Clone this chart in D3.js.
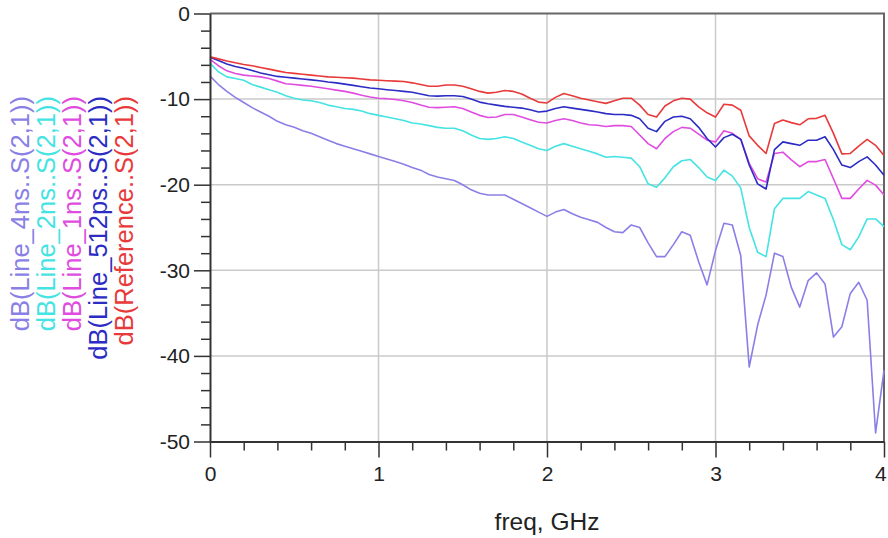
<!DOCTYPE html>
<html>
<head>
<meta charset="utf-8">
<script src="https://cdn.jsdelivr.net/npm/d3@7"></script>
<style>
body { margin: 0; background: #fff; }
text { font-family: "Liberation Sans", Arial, sans-serif; }
</style>
</head>
<body>
<div id="chart"></div>
<script>
// frequency points, GHz (0.05 step)
var freq = d3.range(0, 81).map(function(i) { return i / 20; });

var line4ns = [-7.3, -8.3, -9.1, -9.8, -10.4, -11.0, -11.5, -12.0, -12.6, -13.0,
  -13.3, -13.7, -14.0, -14.4, -14.8, -15.2, -15.5, -15.8, -16.1, -16.4,
  -16.7, -17.0, -17.3, -17.6, -18.0, -18.3, -18.8, -19.1, -19.3, -19.5,
  -20.0, -20.6, -21.0, -21.2, -21.2, -21.2, -21.7, -22.2, -22.7, -23.2,
  -23.7, -23.2, -22.9, -23.4, -23.8, -24.1, -24.4, -25.0, -25.5, -25.6,
  -24.7, -25.0, -26.8, -28.4, -28.4, -27.0, -25.5, -25.9, -29.0, -31.7,
  -27.7, -24.5, -24.7, -28.3, -41.3, -36.4, -32.9, -28.0, -28.4, -32.0,
  -34.3, -31.2, -30.3, -31.6, -37.8, -36.6, -32.7, -31.4, -33.5, -49.0, -41.7];

var line2ns = [-5.8, -6.8, -7.4, -7.6, -7.8, -8.3, -8.6, -8.9, -9.2, -9.6,
  -9.9, -10.1, -10.2, -10.4, -10.7, -10.9, -11.1, -11.2, -11.4, -11.7,
  -11.9, -12.1, -12.3, -12.5, -12.8, -12.9, -13.1, -13.3, -13.4, -13.4,
  -13.7, -14.2, -14.6, -14.7, -14.6, -14.4, -14.6, -15.0, -15.4, -15.8,
  -16.0, -15.5, -15.2, -15.5, -15.8, -16.1, -16.4, -16.8, -16.7, -16.8,
  -16.9, -17.9, -19.9, -20.3, -19.2, -17.9, -17.2, -17.05, -18.0, -19.1,
  -19.5, -18.3, -19.0, -20.4, -25.0, -27.9, -28.4, -22.8, -21.6, -21.6,
  -21.6, -20.8, -21.2, -21.6, -24.1, -27.0, -27.6, -26.1, -24.0, -24.0, -24.9];

var line1ns = [-5.35, -6.1, -6.7, -7.0, -7.2, -7.3, -7.4, -7.6, -7.9, -8.2,
  -8.3, -8.4, -8.5, -8.65, -8.8, -8.95, -9.1, -9.3, -9.55, -9.75,
  -9.9, -9.95, -10.05, -10.2, -10.4, -10.7, -10.95, -11.0, -10.95, -10.9,
  -11.1, -11.5, -11.9, -12.15, -12.1, -11.8, -11.8, -12.1, -12.4, -12.7,
  -12.8, -12.5, -12.3, -12.5, -12.8, -13.0, -13.05, -13.2, -13.1, -13.1,
  -13.2, -14.2, -15.2, -15.8, -14.6, -13.8, -13.3, -13.4, -14.1, -14.8,
  -15.0, -13.7, -14.0, -14.7, -17.5, -19.3, -19.7, -16.35, -16.2, -17.1,
  -17.9, -17.3, -17.3, -17.05, -19.3, -21.6, -21.6, -20.5, -19.5, -20.05, -21.2];

var line512ps = [-5.1, -5.5, -5.9, -6.2, -6.4, -6.65, -6.95, -7.15, -7.35, -7.45,
  -7.55, -7.65, -7.75, -7.85, -8.0, -8.1, -8.25, -8.4, -8.55, -8.7,
  -8.8, -8.9, -9.0, -9.1, -9.2, -9.4, -9.6, -9.65, -9.6, -9.6,
  -9.7, -10.0, -10.35, -10.55, -10.7, -10.85, -10.95, -11.05, -11.25, -11.5,
  -11.4, -11.1, -10.9, -11.05, -11.2, -11.35, -11.5, -11.7, -11.8, -11.8,
  -11.9, -12.3, -13.4, -13.8, -12.6, -12.1, -12.0, -12.3, -13.3, -14.6,
  -15.6, -14.5, -14.1, -14.7, -17.7, -19.9, -20.5, -15.9, -15.0, -15.2,
  -15.4, -14.8, -14.8, -14.4, -15.9, -17.7, -18.0, -17.3, -16.75, -17.7, -18.9];

var reference = [-5.05, -5.3, -5.55, -5.75, -5.95, -6.1, -6.3, -6.5, -6.7, -6.9,
  -7.0, -7.1, -7.2, -7.3, -7.4, -7.45, -7.5, -7.55, -7.65, -7.75,
  -7.8, -7.85, -7.9, -7.95, -8.1, -8.3, -8.5, -8.5, -8.35, -8.35,
  -8.5, -8.8, -9.1, -9.3, -9.2, -9.0, -9.1, -9.4, -9.9, -10.35,
  -10.45, -9.8, -9.35, -9.6, -9.9, -10.1, -10.3, -10.5, -10.2, -9.9,
  -9.9, -10.7, -11.8, -12.1, -10.8, -10.2, -9.9, -10.0, -10.9, -11.6,
  -12.1, -10.6, -10.7, -11.3, -14.3, -15.4, -16.35, -12.85, -12.45, -12.75,
  -13.0, -12.3, -12.25, -11.9, -14.0, -16.4, -16.35, -15.5, -14.7, -15.4, -16.6];

var seriesNames = ["dB(Line_4ns..S(2,1))", "dB(Line_2ns..S(2,1))", "dB(Line_1ns..S(2,1))",
  "dB(Line_512ps..S(2,1))", "dB(Reference..S(2,1))"];
var seriesData = [line4ns, line2ns, line1ns, line512ps, reference];
var seriesColors = ["#8a7fe6", "#45e3e3", "#e04ce0", "#2c2cc4", "#e83a3a"];

var xTicks = [0, 1, 2, 3, 4];
var yTicks = [0, -10, -20, -30, -40, -50];

var draw = function()
{
    var w = 888;
    var h = 538;
    var pLeft = 210, pRight = 884, pTop = 13.5, pBottom = 441.5;

    var x = d3.scaleLinear().domain([0, 4]).range([pLeft, pRight]);
    var y = d3.scaleLinear().domain([-50, 0]).range([pBottom, pTop]);

    var svg = d3.select("#chart").append("svg")
    .attr("width", w)
    .attr("height", h);

    // grid
    svg.append("g").selectAll("line")
    .data(xTicks.slice(1, 4))
    .enter().append("line")
    .attr("x1", function(d) { return x(d); })
    .attr("x2", function(d) { return x(d); })
    .attr("y1", pTop).attr("y2", pBottom)
    .attr("stroke", "#cacaca").attr("stroke-width", 1.5);

    svg.append("g").selectAll("line")
    .data(yTicks.slice(1, 5))
    .enter().append("line")
    .attr("x1", pLeft).attr("x2", pRight)
    .attr("y1", function(d) { return y(d); })
    .attr("y2", function(d) { return y(d); })
    .attr("stroke", "#cacaca").attr("stroke-width", 1.5);

    // frame on top and right
    svg.append("path")
    .attr("d", "M" + pLeft + "," + pTop + "H" + pRight + "V" + pBottom)
    .attr("fill", "none").attr("stroke", "#666").attr("stroke-width", 2);

    // curves
    var line = d3.line()
    .x(function(d, i) { return x(freq[i]); })
    .y(function(d) { return y(d); });

    svg.append("g").selectAll("path")
    .data(seriesData)
    .enter().append("path")
    .attr("fill", "none")
    .attr("stroke", function(d, i) { return seriesColors[i]; })
    .attr("stroke-width", 1.6)
    .attr("stroke-linejoin", "round")
    .attr("d", line);

    // minor ticks
    var xMinor = d3.range(0, 20).map(function(i) { return i / 5; }).filter(function(v, i) { return i % 5 != 0; });
    var yMinor = d3.range(0, 26).map(function(i) { return -2 * i; }).filter(function(v) { return v % 10 != 0; });

    svg.append("g")
    .attr("transform", "translate(0," + pBottom + ")")
    .call(d3.axisBottom(x).tickValues(xMinor).tickSize(9).tickFormat(""))
    .call(function(g) { g.select(".domain").remove(); })
    .selectAll("line").attr("stroke", "#333").attr("stroke-width", 1.5);

    svg.append("g")
    .attr("transform", "translate(" + pLeft + ",0)")
    .call(d3.axisLeft(y).tickValues(yMinor).tickSize(9).tickFormat(""))
    .call(function(g) { g.select(".domain").remove(); })
    .selectAll("line").attr("stroke", "#333").attr("stroke-width", 1.5);

    // major axes
    var xAxis = svg.append("g")
    .attr("transform", "translate(0," + pBottom + ")")
    .call(d3.axisBottom(x).tickValues(xTicks).tickSize(16).tickSizeOuter(0).tickPadding(9).tickFormat(d3.format("d")));

    var yAxis = svg.append("g")
    .attr("transform", "translate(" + pLeft + ",0)")
    .call(d3.axisLeft(y).tickValues(yTicks).tickSize(16).tickSizeOuter(0).tickPadding(4)
      .tickFormat(function(d) { return d == 0 ? "0" : "-" + Math.abs(d); }));

    [xAxis, yAxis].forEach(function(g) {
        g.select(".domain").attr("stroke", "#333").attr("stroke-width", 2);
        g.selectAll("line").attr("stroke", "#333").attr("stroke-width", 1.5);
        g.selectAll("text").attr("fill", "#222").style("font-size", "21px")
        .style("font-family", "'Liberation Sans', Arial, sans-serif");
    });

    // keep the "4" inside the window
    xAxis.selectAll("text").filter(function(d) { return d == 4; }).attr("text-anchor", "end").attr("dx", "0.1em");

    // x title
    svg.append("text")
    .attr("x", 547).attr("y", 530)
    .attr("text-anchor", "middle")
    .attr("fill", "#222")
    .style("font-size", "24.5px")
    .text("freq, GHz");

    // rotated legend on the left
    var legendX = [29, 55, 81, 107, 133];
    svg.append("g").selectAll("text")
    .data(seriesNames)
    .enter().append("text")
    .attr("transform", function(d, i) { return "translate(" + legendX[i] + ",96) rotate(-90)"; })
    .attr("text-anchor", "end")
    .attr("fill", function(d, i) { return seriesColors[i]; })
    .style("font-size", "25.5px")
    .text(function(d) { return d; });
}

draw();
</script>
</body>
</html>
